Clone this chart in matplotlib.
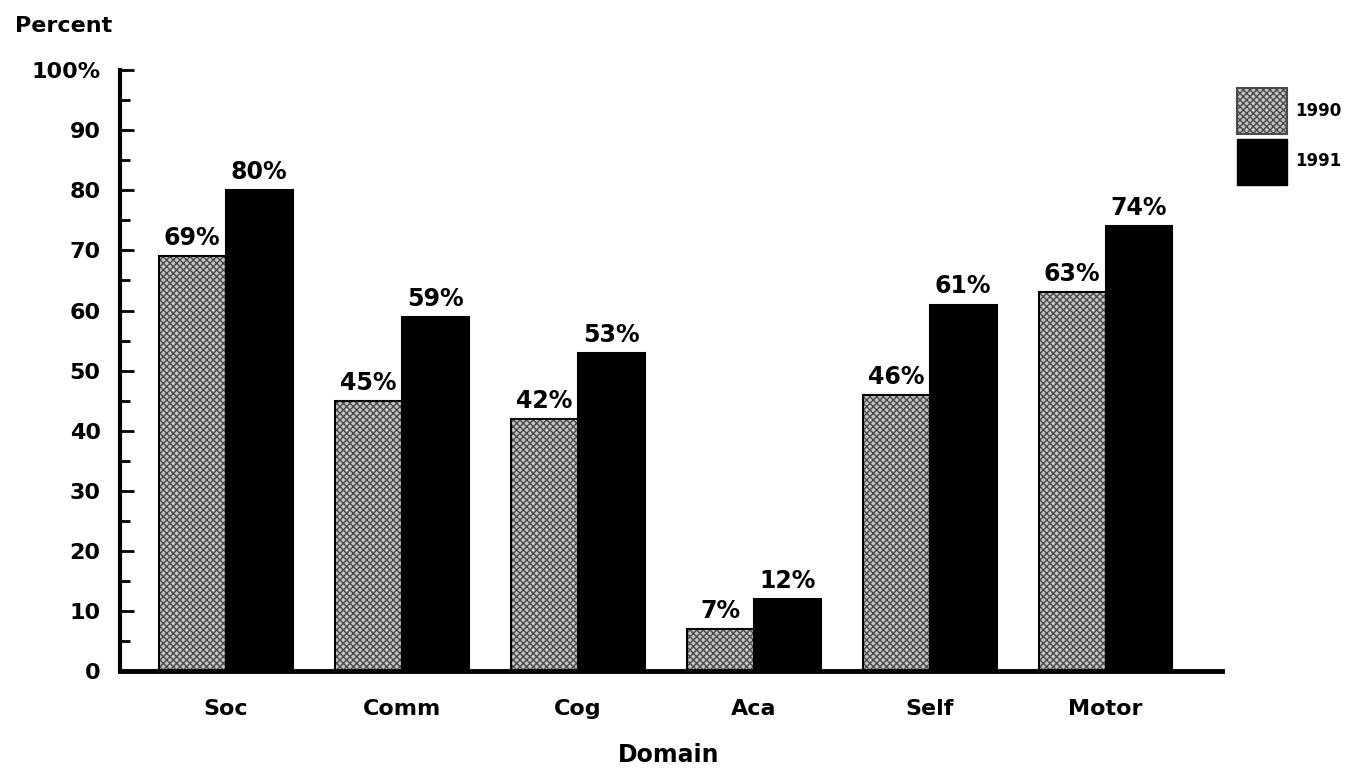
import numpy as np
import matplotlib.pyplot as plt
from matplotlib.patches import Patch

domains = ["Soc", "Comm", "Cog", "Aca", "Self", "Motor"]
pct_1990 = [69, 45, 42, 7, 46, 63]
pct_1991 = [80, 59, 53, 12, 61, 74]
years = ["1990", "1991"]

plt.rcParams['font.family'] = ['DejaVu Sans']
plt.rcParams['font.weight'] = 'bold'

fig = plt.figure(figsize=(13.5, 7.69), dpi=100)
ax = fig.add_axes([0.089, 0.127, 0.816, 0.782])

x = np.arange(len(domains))
w = 0.38
gray = '#c4c4c4'
hatch_col = '#4a4a4a'
pattern = 'xxxxx'

# stippled 1990 bars: hatch first, then a crisp black outline on top
ax.bar(x - w / 2, pct_1990, w, color=gray, edgecolor=hatch_col,
       hatch=pattern, linewidth=0, zorder=2)
ax.bar(x - w / 2, pct_1990, w, fill=False, edgecolor='black',
       linewidth=1.5, zorder=3)
ax.bar(x + w / 2, pct_1991, w, color='black', edgecolor='black',
       linewidth=1.5, zorder=3)

for xi, v in zip(x - w / 2, pct_1990):
    ax.text(xi, v + 1.0, f"{v}%", ha='center', va='bottom',
            fontsize=17, fontweight='bold')
for xi, v in zip(x + w / 2, pct_1991):
    ax.text(xi, v + 1.0, f"{v}%", ha='center', va='bottom',
            fontsize=17, fontweight='bold')

ax.set_xlim(-0.6, len(domains) - 0.34)
ax.set_ylim(0, 100)
ax.set_yticks(np.arange(0, 101, 10))
ax.set_yticklabels([str(t) for t in range(0, 100, 10)] + ["100%"])
ax.set_yticks(np.arange(5, 100, 10), minor=True)
ax.tick_params(axis='y', which='major', direction='in', length=10, width=2,
               pad=14, labelsize=16)
ax.tick_params(axis='y', which='minor', direction='in', length=7, width=2)

ax.set_xticks(x)
ax.set_xticklabels(domains)
ax.tick_params(axis='x', length=0, pad=20, labelsize=16)

for side in ('top', 'right'):
    ax.spines[side].set_visible(False)
ax.spines['left'].set_linewidth(3)
ax.spines['bottom'].set_linewidth(3.5)
ax.spines['bottom'].set_zorder(4)

fig.text(0.011, 0.966, "Percent", fontsize=16, fontweight='bold',
         ha='left', va='center')
fig.text(0.495, 0.018, "Domain", fontsize=17, fontweight='bold',
         ha='center', va='center')

handles = [Patch(facecolor=gray, edgecolor=hatch_col, hatch=pattern,
                 linewidth=1.5),
           Patch(facecolor='black', edgecolor='black')]
fig.legend(handles, years, loc='upper left', bbox_to_anchor=(0.905, 0.905),
           frameon=False, fontsize=12, handlelength=3.0, handleheight=3.9,
           labelspacing=0.25, handletextpad=0.5)

fig.savefig("out.png", dpi=100)
